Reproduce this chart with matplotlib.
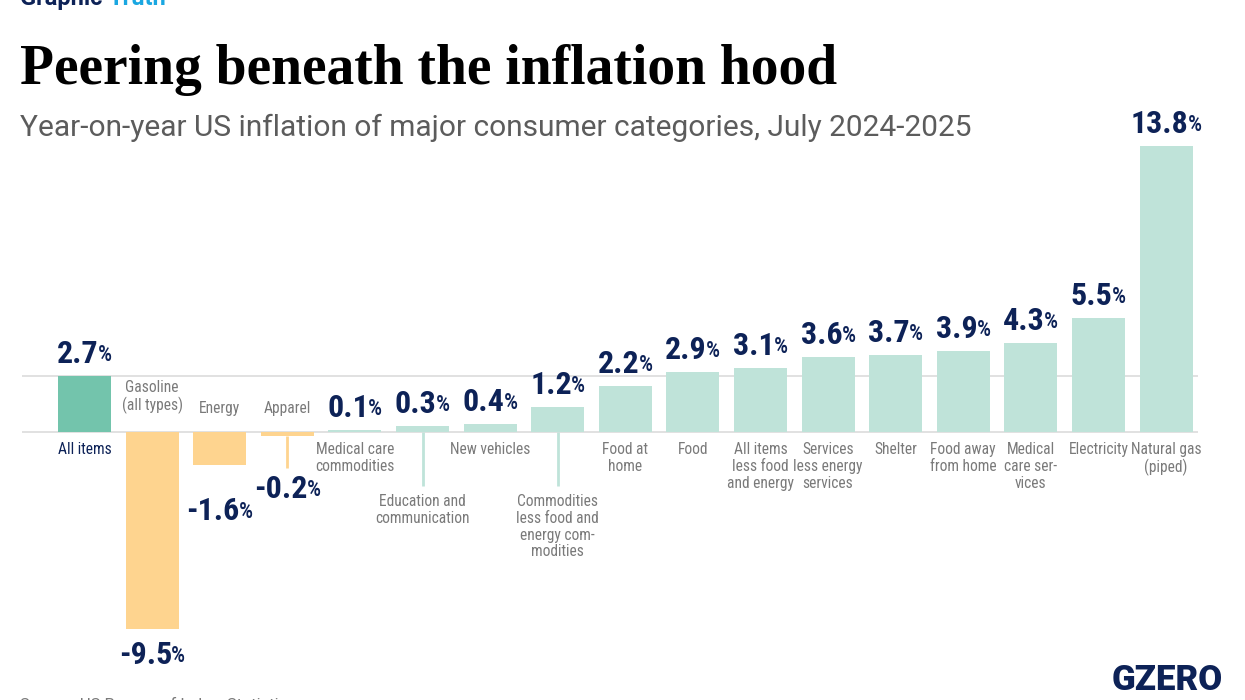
import matplotlib.pyplot as plt

categories = [
    "All items", "Gasoline\n(all types)", "Energy", "Apparel",
    "Medical care\ncommodities", "Education and\ncommunication", "New vehicles",
    "Commodities\nless food and\nenergy com-\nmodities", "Food at\nhome", "Food",
    "All items\nless food\nand energy", "Services\nless energy\nservices", "Shelter",
    "Food away\nfrom home", "Medical\ncare ser-\nvices", "Electricity",
    "Natural gas\n(piped)",
]
values = [2.7, -9.5, -1.6, -0.2, 0.1, 0.3, 0.4, 1.2, 2.2, 2.9, 3.1, 3.6, 3.7,
          3.9, 4.3, 5.5, 13.8]
# where the category label goes: above zero line, below, or below with a leader line
label_pos = ["below", "above", "above", "above", "below", "leader", "below",
             "leader", "below", "below", "below", "below", "below", "below",
             "below", "below", "below"]

NAVY = "#0d2257"
GRAY = "#7a7a7a"
TEAL = "#73c4ac"
MINT = "#bfe3d9"
ORANGE = "#fed48f"
GRID = "#dcdcdc"
COND = ["Roboto Condensed", "IBM Plex Sans Condensed", "DejaVu Sans"]
SANS = ["Roboto", "DejaVu Sans"]

PX_PER_UNIT = 20.7
ZERO_PX = 432


def ypx(py):
    # convert a pixel row (from top) to a data value
    return (ZERO_PX - py) / PX_PER_UNIT


fig = plt.figure(figsize=(12.45, 7), dpi=100)
ax = fig.add_axes([0, 0, 1, 1])
ax.set_xlim((0 - 84.5) / 67.6, (1245 - 84.5) / 67.6)
ax.set_ylim(ypx(700), ypx(0))
ax.axis("off")

x = list(range(len(values)))
colors = [TEAL if i == 0 else (ORANGE if v < 0 else MINT) for i, v in enumerate(values)]

ax.hlines([0, 2.7], -0.925, 16.47, color=GRID, lw=1.2, zorder=1)
ax.bar(x, values, width=0.785, color=colors, zorder=2)

for i, (cat, v, pos) in enumerate(zip(categories, values, label_pos)):
    ccol = NAVY if i == 0 else GRAY
    if pos == "above":
        top = 380 if cat.count("\n") else 401
        ax.text(i, ypx(top), cat, ha="center", va="top", fontsize=11.2,
                color=ccol, family=COND, linespacing=1.15)
    elif pos == "below":
        ax.text(i, ypx(442), cat, ha="center", va="top", fontsize=11.2,
                color=ccol, family=COND, linespacing=1.15)
    else:
        ax.vlines(i, 0, ypx(486), color=MINT, lw=2, zorder=1)
        ax.text(i, ypx(494), cat, ha="center", va="top", fontsize=11.2,
                color=ccol, family=COND, linespacing=1.15)

    # value label
    if v >= 0:
        vy = v + ypx(ZERO_PX - 7)
        va = "bottom"
    else:
        if cat == "Apparel":
            ax.vlines(i, v, ypx(468), color=ORANGE, lw=2, zorder=1)
            vy = ypx(474)
        elif cat == "Energy":
            vy = ypx(496)
        else:
            vy = v - ypx(ZERO_PX - 11)
        va = "top"
    num = ax.text(i - 0.1, vy, f"{v:.1f}", ha="center", va=va, fontsize=23,
                  fontweight="bold", color=NAVY, family=COND)
    ax.annotate("%", xy=(1, 0), xycoords=num, xytext=(-0.5, 2.2),
                textcoords="offset points", ha="left", va="bottom",
                fontsize=16, fontweight="medium", color=NAVY, family=COND)

fig.text(20 / 1245, 1 - 70 / 700, "Peering beneath the inflation hood",
         fontsize=40, fontweight="bold", family="Liberation Serif",
         color="black", va="center", ha="left")
fig.text(20 / 1245, 1 - 128 / 700,
         "Year-on-year US inflation of major consumer categories, July 2024-2025",
         fontsize=21.5, color="#5c5c5c", family=SANS,
         va="center", ha="left")

gt = fig.text(20 / 1245, 1.002, "Graphic ", fontsize=17, fontweight="bold",
              color=NAVY, family=SANS, va="center", ha="left")
truth = plt.Annotation("Truth", xy=(1, 0), xycoords=gt, ha="left", va="bottom",
                       fontsize=17, fontweight="bold", color="#1aa7e1",
                       family=SANS)
fig.add_artist(truth)

fig.text(20 / 1245, -0.008, "Source: US Bureau of Labor Statistics", fontsize=12,
         color=GRAY, family=SANS, va="center", ha="left")
fig.text(1167 / 1245, 1 - 681 / 700, "GZERO", fontsize=25, fontweight="heavy",
         color=NAVY, family=SANS, va="center", ha="center")

fig.savefig("out.png", dpi=100)
